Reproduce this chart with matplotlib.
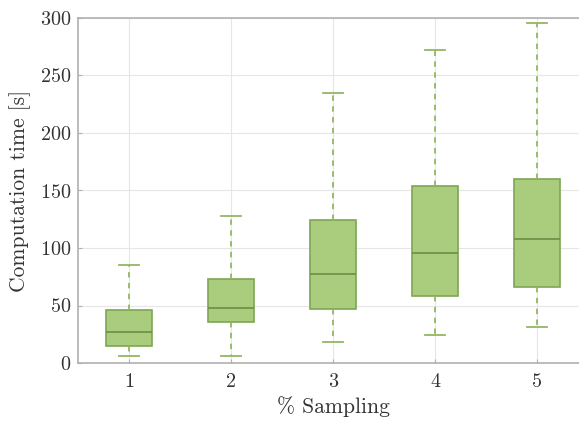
import matplotlib
matplotlib.use("Agg")
import matplotlib.pyplot as plt

plt.rcParams['font.family'] = ['cmr10', 'DejaVu Serif']
plt.rcParams['mathtext.fontset'] = 'cm'
plt.rcParams['axes.formatter.use_mathtext'] = True

categories = ["1", "2", "3", "4", "5"]
whislo = [6, 6, 18, 24, 31]
q1 = [15, 36, 47, 58, 66]
med = [27, 48, 77, 96, 108]
q3 = [46, 73, 124, 154, 160]
whishi = [85, 128, 235, 272, 296]

stats = []
for i, c in enumerate(categories):
    stats.append(dict(label=c, whislo=whislo[i], q1=q1[i], med=med[i],
                      q3=q3[i], whishi=whishi[i], fliers=[]))

fig = plt.figure(figsize=(5.79, 4.23), dpi=100)
ax = fig.add_axes([78/579, (423-363)/423, 510/579, (363-18)/423])

face = '#a9cd7d'
edge = '#7ea653'
wcol = '#93b863'
ax.bxp(stats, positions=range(1, 6), widths=0.46, patch_artist=True,
       boxprops=dict(facecolor=face, edgecolor=edge, linewidth=1.2),
       medianprops=dict(color='#6a8f45', linewidth=1.2),
       whiskerprops=dict(color=wcol, linestyle=(0, (3, 3)), linewidth=1.3),
       capprops=dict(color=wcol, linewidth=1.3), capwidths=0.2,
       showfliers=False, zorder=3)

ax.set_xlim(0.5, 5.5)
ax.set_ylim(0, 300)
ax.set_yticks([0, 50, 100, 150, 200, 250, 300])
ax.grid(True, color='#e6e6e6', linewidth=0.8, zorder=0)
ax.set_axisbelow(True)
for s in ['left', 'bottom', 'top']:
    ax.spines[s].set_color('#b0b0b0')
    ax.spines[s].set_linewidth(1.2)
ax.spines['right'].set_visible(False)
ax.tick_params(direction='in', length=3, color='#b0b0b0', labelsize=14.5,
               labelcolor='#333333')
ax.tick_params(axis='x', pad=7)
ax.tick_params(axis='y', pad=5)
ax.set_xlabel('% Sampling', fontsize=15.5, color='#333333', labelpad=4)
ax.set_ylabel('Computation time [s]', fontsize=15.5, color='#333333', labelpad=6)

fig.savefig('out.png', dpi=100)
